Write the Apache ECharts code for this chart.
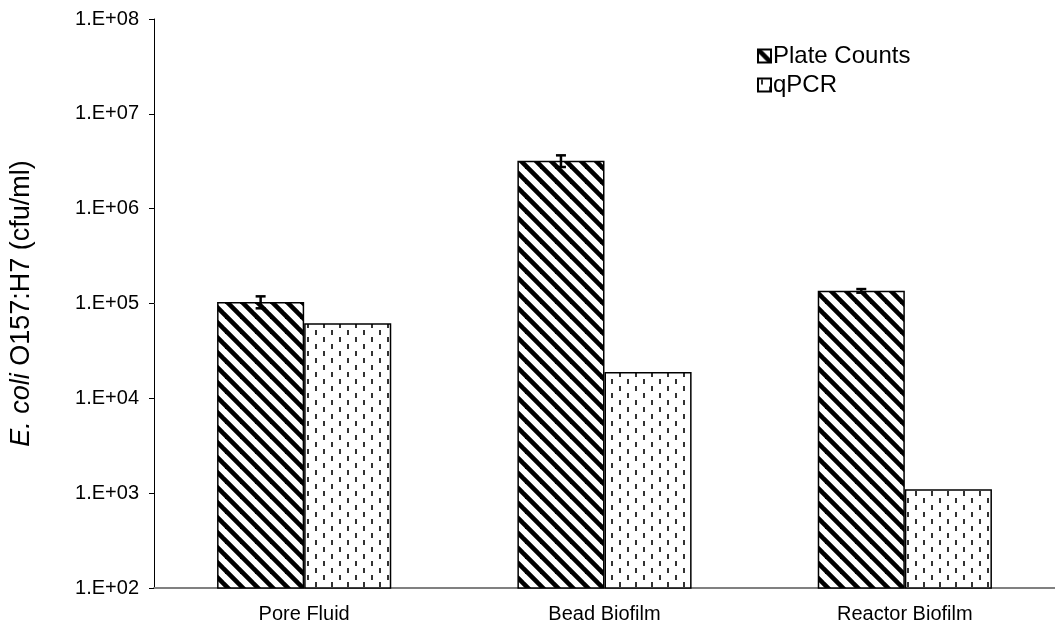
<!DOCTYPE html>
<html>
<head>
<meta charset="utf-8">
<script src="https://cdn.jsdelivr.net/npm/echarts@6/dist/echarts.min.js"></script>
<style>
  html, body { margin: 0; padding: 0; background: #fff; }
  #chart { width: 1055px; height: 635px; }
</style>
</head>
<body>
<div id="chart"></div>
<script>
// Sample types along the x axis
const categories = ['Pore Fluid', 'Bead Biofilm', 'Reactor Biofilm'];
// Series names
const seriesNames = ['Plate Counts', 'qPCR'];
// E. coli O157:H7 counts (cfu/ml)
const plateCounts = [1.04e5, 3.2e6, 1.36e5];
const plateCountsErr = [1.5e4, 4.5e5, 6e3];
const qpcr = [6.2e4, 1.9e4, 1.1e3];
// Log axis tick values
const yTicks = [1e2, 1e3, 1e4, 1e5, 1e6, 1e7, 1e8];

// Diagonal hatch fill for plate counts
function stripePattern() {
  const s = 15;
  const c = document.createElement('canvas');
  c.width = s; c.height = s;
  const g = c.getContext('2d');
  g.fillStyle = '#fff';
  g.fillRect(0, 0, s, s);
  g.strokeStyle = '#000';
  g.lineWidth = 4.6;
  for (let k = -1; k <= 1; k++) {
    g.beginPath();
    g.moveTo(k * s - 2, -2);
    g.lineTo(k * s + s + 2, s + 2);
    g.stroke();
  }
  return c;
}

// Staggered short dashes for qPCR
function dashPattern() {
  const w = 16, h = 14;
  const c = document.createElement('canvas');
  c.width = w; c.height = h;
  const g = c.getContext('2d');
  g.fillStyle = '#fff';
  g.fillRect(0, 0, w, h);
  g.fillStyle = '#333';
  g.fillRect(3, 1, 2, 5);
  g.fillRect(11, 8, 2, 5);
  return c;
}

const chart = echarts.init(document.getElementById('chart'), null, { renderer: 'canvas' });
const font = 'Liberation Sans, Arial, sans-serif';
const barGapPct = 0.42;

function expLabel(v) {
  const e = Math.round(Math.log10(v));
  return '1.E+' + (e < 10 ? '0' + e : e);
}

chart.setOption({
  animation: false,
  backgroundColor: '#fff',
  textStyle: { fontFamily: font, color: '#000' },
  grid: { left: 152, right: 0, top: 19, bottom: 47 },
  legend: {
    orient: 'vertical',
    left: 752,
    top: 39,
    itemWidth: 13,
    itemHeight: 13,
    itemGap: 5,
    icon: 'rect',
    textStyle: { fontFamily: font, fontSize: 24, color: '#000', padding: [0, 0, 0, -3] },
    data: seriesNames
  },
  xAxis: {
    type: 'category',
    data: categories,
    axisLine: { lineStyle: { color: '#808080', width: 2 } },
    axisTick: { show: false },
    axisLabel: { fontFamily: font, fontSize: 20, color: '#000', margin: 16 }
  },
  yAxis: {
    type: 'log',
    logBase: 10,
    min: yTicks[0],
    max: yTicks[yTicks.length - 1],
    name: '{i|E. coli} O157:H7 (cfu/ml)',
    nameLocation: 'middle',
    nameGap: 119,
    nameTextStyle: {
      fontFamily: font, fontSize: 27, color: '#000',
      rich: { i: { fontFamily: font, fontSize: 27, fontStyle: 'italic', color: '#000' } }
    },
    axisLine: { show: true, lineStyle: { color: '#000', width: 1 } },
    axisTick: { show: true, inside: false, length: 5, lineStyle: { color: '#000' } },
    minorTick: { show: false },
    splitLine: { show: false },
    axisLabel: {
      fontFamily: font, fontSize: 20, color: '#000', margin: 15,
      formatter: expLabel
    }
  },
  series: [
    {
      name: seriesNames[0],
      type: 'bar',
      data: plateCounts,
      barGap: '0%',
      barCategoryGap: (barGapPct * 100) + '%',
      itemStyle: {
        color: { image: stripePattern(), repeat: 'repeat' },
        borderColor: '#000',
        borderWidth: 1.5
      }
    },
    {
      name: seriesNames[1],
      type: 'bar',
      data: qpcr,
      barGap: '0%',
      barCategoryGap: (barGapPct * 100) + '%',
      itemStyle: {
        color: { image: dashPattern(), repeat: 'repeat' },
        borderColor: '#000',
        borderWidth: 1.5
      }
    },
    {
      name: 'err',
      type: 'custom',
      data: plateCounts.map((v, i) => [i, v - plateCountsErr[i], v + plateCountsErr[i]]),
      z: 10,
      renderItem: function (params, api) {
        const i = api.value(0);
        const band = api.size([1, 0])[0];
        const barW = band * (1 - barGapPct) / 2;
        const lo = api.coord([i, api.value(1)]);
        const hi = api.coord([i, api.value(2)]);
        const x = lo[0] - barW / 2;
        const cap = 5;
        const style = { stroke: '#000', lineWidth: 2.5 };
        return {
          type: 'group',
          children: [
            { type: 'line', shape: { x1: x, y1: lo[1], x2: x, y2: hi[1] }, style },
            { type: 'line', shape: { x1: x - cap, y1: lo[1], x2: x + cap, y2: lo[1] }, style },
            { type: 'line', shape: { x1: x - cap, y1: hi[1], x2: x + cap, y2: hi[1] }, style }
          ]
        };
      }
    }
  ]
});
</script>
</body>
</html>
